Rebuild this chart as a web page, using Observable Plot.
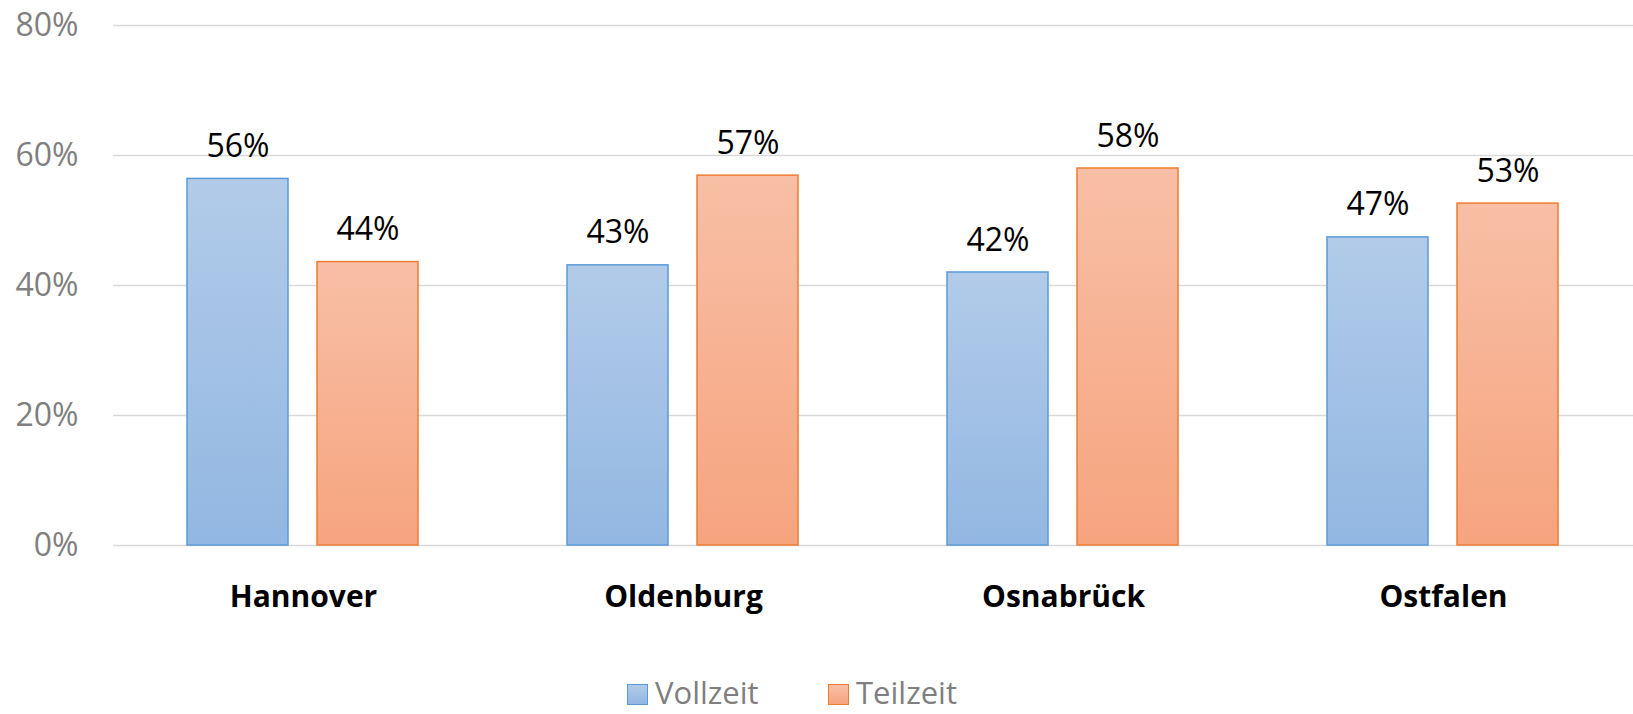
<!DOCTYPE html>
<html>
<head>
<meta charset="utf-8">
<script src="https://cdn.jsdelivr.net/npm/d3@7"></script>
<script src="https://cdn.jsdelivr.net/npm/@observablehq/plot@0.6"></script>
<style>
  html, body { margin: 0; padding: 0; background: #fff; }
  body { width: 1633px; height: 714px; overflow: hidden; font-family: "Open Sans", sans-serif; }
  #chart svg { display: block; font-family: "Open Sans", sans-serif; }
  #chart [aria-label^="y-axis"] text { font-size: 32px; fill: #7f7f7f; }
  #chart [aria-label^="fx-axis"] text { font-size: 30px; font-weight: bold; fill: #000; }
  #legend { height: 34px; position: relative; font-size: 31px; color: #7f7f7f; }
  .sw { position: absolute; top: 4px; width: 19px; height: 19px; border: 1.5px solid; }
  .lab { position: absolute; top: -3px; line-height: 30px; white-space: nowrap; }
</style>
</head>
<body>
<div id="chart"></div>
<div id="legend"></div>
<script>
const regions = ["Hannover", "Oldenburg", "Osnabrück", "Ostfalen"];
const series = ["Vollzeit", "Teilzeit"];
const vollzeit = [56.4, 43.1, 42.0, 47.4];
const teilzeit = [43.6, 56.9, 58.0, 52.6];
const yTicks = [0, 20, 40, 60, 80];

const strokeColors = {Vollzeit: "#5b9bd5", Teilzeit: "#ed7d31"};
const gradIds = {Vollzeit: "url(#gradV)", Teilzeit: "url(#gradT)"};

const data = [];
regions.forEach((r, i) => {
  data.push({region: r, series: "Vollzeit", value: vollzeit[i]});
  data.push({region: r, series: "Teilzeit", value: teilzeit[i]});
});

const chart = Plot.plot({
  width: 1633,
  height: 680,
  marginLeft: 113,
  marginRight: 0,
  marginTop: 25,
  marginBottom: 135,
  facet: {data, x: "region"},
  fx: {domain: regions, padding: 0, label: null, axis: "bottom", tickSize: 0, tickPadding: 40},
  x: {domain: series, paddingInner: 0.223, paddingOuter: 0.573, axis: null},
  y: {domain: [0, 80], ticks: yTicks, tickFormat: d => d + "%", tickSize: 0, tickPadding: 35, label: null},
  marks: [
    Plot.ruleY(yTicks, {stroke: "#d9d9d9", strokeWidth: 1.5}),
    Plot.barY(data, {
      x: "series", y: "value",
      fill: d => gradIds[d.series],
      stroke: d => strokeColors[d.series],
      strokeWidth: 1.5
    }),
    Plot.text(data, {
      x: "series", y: "value",
      text: d => Math.round(d.value) + "%",
      fontSize: 32, fill: "#000", lineAnchor: "bottom", dy: -22
    })
  ]
});

const ns = "http://www.w3.org/2000/svg";
const defs = document.createElementNS(ns, "defs");
function grad(id, top, bottom) {
  const g = document.createElementNS(ns, "linearGradient");
  g.setAttribute("id", id);
  g.setAttribute("x1", "0"); g.setAttribute("y1", "0");
  g.setAttribute("x2", "0"); g.setAttribute("y2", "1");
  [[0, top], [1, bottom]].forEach(([o, c]) => {
    const s = document.createElementNS(ns, "stop");
    s.setAttribute("offset", o);
    s.setAttribute("stop-color", c);
    g.appendChild(s);
  });
  defs.appendChild(g);
}
grad("gradV", "#b2cbe9", "#92b7e2");
grad("gradT", "#f8bfa6", "#f6a47e");
chart.insertBefore(defs, chart.firstChild);
document.getElementById("chart").appendChild(chart);

const legendFills = {Vollzeit: "linear-gradient(#b2cbe9, #92b7e2)", Teilzeit: "linear-gradient(#f8bfa6, #f6a47e)"};
const legendLeft = {Vollzeit: 627, Teilzeit: 828};
const legend = document.getElementById("legend");
series.forEach(s => {
  const sw = document.createElement("div");
  sw.className = "sw";
  sw.style.left = legendLeft[s] + "px";
  sw.style.background = legendFills[s];
  sw.style.borderColor = strokeColors[s];
  const lab = document.createElement("span");
  lab.className = "lab";
  lab.style.left = (legendLeft[s] + 28) + "px";
  lab.textContent = s;
  legend.appendChild(sw);
  legend.appendChild(lab);
});
</script>
</body>
</html>
